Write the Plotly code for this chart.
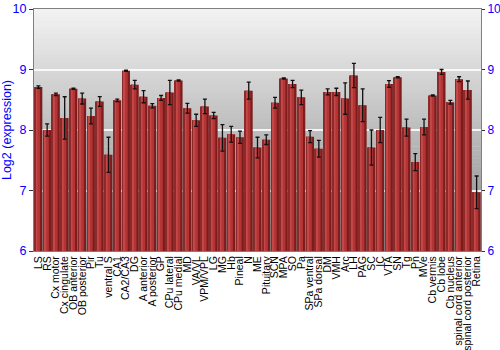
import plotly.graph_objects as go

regions = ["LS", "RS", "Cx motor", "Cx cingulate", "OB anterior", "OB posterior", "Pir", "Tu",
           "ventral S", "CA1", "CA2/CA3", "DG", "A anterior", "A posterior", "GP", "CPu lateral",
           "CPu medial", "MD", "VA/VL", "VPM/VPL", "LG", "MG", "Hb", "Pineal", "N", "ME",
           "Pituitary", "SCN", "MPA", "SO", "Pa", "SPa ventral", "SPa dorsal", "DM", "VMH", "Arc",
           "LH", "PAG", "SC", "IC", "VTA", "SN", "Tg", "Pn", "MVe", "Cb vermis", "Cb lobe",
           "Cb nucleus", "spinal cord anterior", "spinal cord posterior", "Retina"]

expression = [8.71, 8.00, 8.59, 8.20, 8.68, 8.52, 8.23, 8.47,
              7.59, 8.49, 8.98, 8.75, 8.55, 8.40, 8.53, 8.62,
              8.82, 8.36, 8.16, 8.39, 8.24, 7.87, 7.93, 7.88, 8.65, 7.71,
              7.84, 8.45, 8.85, 8.76, 8.54, 7.89, 7.69, 8.63, 8.63, 8.52,
              8.90, 8.41, 7.71, 8.00, 8.76, 8.87, 8.04, 7.47, 8.05, 8.57, 8.96,
              8.46, 8.84, 8.66, 6.97]

errors = [0.02, 0.10, 0.02, 0.35, 0.01, 0.09, 0.13, 0.08,
          0.29, 0.02, 0.01, 0.07, 0.10, 0.035, 0.04, 0.20,
          0.01, 0.08, 0.10, 0.12, 0.05, 0.22, 0.13, 0.10, 0.14, 0.17,
          0.08, 0.09, 0.01, 0.06, 0.12, 0.10, 0.14, 0.05, 0.06, 0.26,
          0.20, 0.27, 0.29, 0.21, 0.055, 0.01, 0.14, 0.14, 0.13, 0.01, 0.04,
          0.03, 0.04, 0.15, 0.27]

y_ticks = [6, 7, 8, 9, 10]
y_range = [6, 10]

BLUE = "#0000ff"
FONT = "Liberation Sans, Arial, sans-serif"

fig = go.Figure()

# bar body layers (cylinder-like shading)
fig.add_trace(go.Bar(x=regions, y=expression, base=0, width=0.9,
                     marker=dict(color="#7c1c1c", line=dict(width=0)), hoverinfo="skip"))
fig.add_trace(go.Bar(x=regions, y=expression, width=0.62, offset=-0.43,
                     marker=dict(color="#b33434", line=dict(width=0)), hoverinfo="skip"))
fig.add_trace(go.Bar(x=regions, y=expression, width=0.25, offset=-0.36,
                     marker=dict(color="#c54848", line=dict(width=0)), hoverinfo="skip"))
fig.add_trace(go.Bar(x=regions, y=expression, width=0.08, offset=-0.45,
                     marker=dict(color="#8a2a2a", line=dict(width=0)), hoverinfo="skip"))

# error bars
fig.add_trace(go.Scatter(x=regions, y=expression, mode="markers",
                         marker=dict(size=0.1, color="rgba(0,0,0,0)"),
                         error_y=dict(type="data", array=errors, visible=True,
                                      color="#111111", thickness=1.3, width=2),
                         hoverinfo="skip"))

# gradient background
n_strips = 60
top_c, bot_c = 243, 134
shapes = []
for i in range(n_strips):
    t = i / n_strips
    c = round(top_c + (bot_c - top_c) * (t + 0.5 / n_strips))
    shapes.append(dict(type="rect", xref="paper", yref="paper",
                       x0=0, x1=1, y0=1 - (i + 1) / n_strips - 0.002, y1=1 - i / n_strips,
                       fillcolor=f"rgb({c},{c},{c})", line=dict(width=0), layer="below"))

fig.update_layout(
    width=500, height=350,
    margin=dict(l=34, r=19, t=9, b=99, autoexpand=False),
    paper_bgcolor="white",
    plot_bgcolor="rgba(0,0,0,0)",
    barmode="overlay",
    bargap=0.1,
    showlegend=False,
    shapes=shapes,
    font=dict(family=FONT, size=12, color="black"),
    xaxis=dict(
        type="category", tickangle=-90, tickfont=dict(size=10.5, color="black", family=FONT),
        tickmode="array", tickvals=regions, ticktext=regions,
        showgrid=False, showline=True, linecolor="#808080", mirror=True,
        ticks="", automargin=False, range=[-0.5, len(regions) - 0.5],
    ),
    yaxis=dict(
        range=y_range, tickvals=y_ticks, ticktext=[str(v) for v in y_ticks],
        tickfont=dict(size=12.5, color=BLUE, family=FONT),
        title=dict(text="Log2 (expression)", font=dict(size=12.5, color=BLUE, family=FONT), standoff=4),
        showgrid=True, gridcolor="rgba(255,255,255,0.85)", gridwidth=1.5,
        showline=True, linecolor="#808080", ticks="outside", ticklen=4, tickcolor="#333333",
        zeroline=False, automargin=False,
    ),
    yaxis2=dict(
        range=y_range, tickvals=y_ticks, ticktext=[str(v) for v in y_ticks],
        overlaying="y", side="right", anchor="x",
        tickfont=dict(size=12, color=BLUE, family=FONT),
        showgrid=False, showline=True, linecolor="#808080", ticks="outside",
        ticklen=3, tickcolor="#333333", zeroline=False, automargin=False,
    ),
)

# invisible trace to anchor the right axis
fig.add_trace(go.Scatter(x=regions, y=expression, yaxis="y2", mode="markers",
                         marker=dict(size=0.1, color="rgba(0,0,0,0)"), hoverinfo="skip"))

fig.write_html("out.html")
